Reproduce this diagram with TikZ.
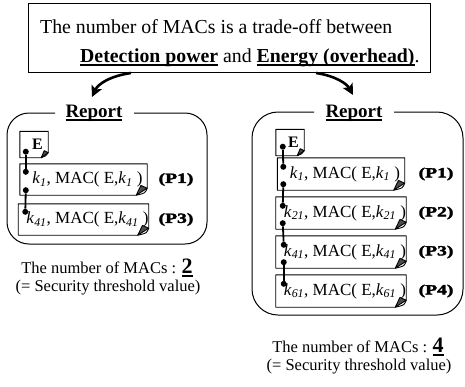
\documentclass[tikz,border=0pt]{standalone}
\usepackage{fontspec}
\setmainfont{Liberation Serif}
\newfontfamily\heavyfont{Liberation Serif}[FakeBold=2.6,FakeStretch=1.4]
\usetikzlibrary{arrows.meta}

% thick underline a little below the baseline
\newsavebox\ulbox
\newcommand\uln[1]{\sbox\ulbox{#1}\rlap{\vrule width\wd\ulbox height -2.4pt depth 3.8pt}\usebox\ulbox}

% key with italic subscript, e.g. k_1
\newcommand\keyk[1]{\textit{k}\textsubscript{\textit{#1}}}

% packet outline with a folded bottom-right corner
\newcommand\foldbox[3]{%
  \draw[pkline] (#1.south west) -- (#1.north west) -- (#1.north east)
    -- ([yshift=#3]#1.south east)
    .. controls ([xshift=-2pt,yshift=2pt]#1.south east) .. ([xshift=-#2]#1.south east)
    -- cycle;
  \filldraw[pkline,fill=black!70] ([yshift=#3]#1.south east) -- ([xshift=-#2]#1.south east)
    -- ([xshift=-0.57*#2,yshift=1.4*#3]#1.south east) -- cycle;
}

\tikzset{
  frame/.style={draw, line width=1pt},
  pkline/.style={line width=0.9pt, line join=round},
  pk/.style={inner sep=0pt, minimum width=127pt, minimum height=31pt,
    font=\fontsize{17}{20}\selectfont},
  ebox/.style={inner sep=0pt, minimum width=28pt, minimum height=26pt,
    font=\fontsize{16}{18}\selectfont\bfseries},
  dotnode/.style={circle, fill=black, inner sep=0pt, minimum size=6pt},
  link/.style={line width=1.8pt},
  plabel/.style={font=\fontsize{14}{17}\selectfont\heavyfont\bfseries},
  ttl/.style={anchor=base, font=\fontsize{19}{23}\selectfont\bfseries},
  note/.style={anchor=base, font=\fontsize{16.5}{20}\selectfont},
  bigarrow/.style={line width=2.6pt, -{Stealth[length=11pt,width=11pt,inset=2.5pt]}},
}

\begin{document}
\begin{tikzpicture}[x=1pt,y=-1pt]
\useasboundingbox (0,0) rectangle (465,386);

% ---- statement box ----
\node[frame, minimum width=402pt, minimum height=69pt, inner sep=0pt] (top) at (229,37.5) {};
\node[anchor=base west, inner sep=0pt, font=\fontsize{19.8}{24}\selectfont] (tl1) at (40,33)
  {The number of MACs is a trade-off between};
\node[anchor=base west, inner sep=0pt, font=\fontsize{19.8}{24}\selectfont] (tl2) at (80,62)
  {{\bfseries\uln{Detection power}} and {\bfseries\uln{Energy (overhead)}}.};

% ---- arrows to the two reports ----
\coordinate (la0) at (131,73);
\coordinate (la1) at (92,97);
\coordinate (ra0) at (316,73);
\coordinate (ra1) at (353,95);
\draw[bigarrow] (la0) .. controls (110,76) and (98,84) .. (la1);
\draw[bigarrow] (ra0) .. controls (336,76) and (347,84) .. (ra1);

% ---- left report: 2 MACs ----
\draw[frame, rounded corners=22pt] (134,113) -- (207,113) -- (207,244) -- (7,244) -- (7,113) -- (55,113);
\node[ttl] (lttl) at (94,117) {\uln{Report}};

\node[ebox] (le) at (34,144.5) {\hspace{7pt}E};
\node[pk] (lp1) at (83.5,179.5) {\hspace{8pt}\keyk{1}, MAC( E,\keyk{1} )};
\node[pk] (lp3) at (83.5,219.5) {\hspace{8pt}\keyk{41}, MAC( E,\keyk{41} )};
\foldbox{le}{7pt}{5pt}
\foldbox{lp1}{11pt}{7pt}
\foldbox{lp3}{11pt}{7pt}
\node[plabel] (lp1l) at (176,179.5) {(P1)};
\node[plabel] (lp3l) at (176,219.5) {(P3)};

\node[dotnode] (led) at ([xshift=6pt,yshift=6pt]le.south west) {};
\node[dotnode] (lp1a) at ([xshift=6pt,yshift=-8pt]lp1.north west) {};
\node[dotnode] (lp1b) at ([xshift=6pt,yshift=5pt]lp1.south west) {};
\node[dotnode] (lp3a) at ([xshift=7pt,yshift=-8pt]lp3.north west) {};
\draw[link] (led) -- (lp1a);
\draw[link] (lp1b) -- (lp3a);

\node[note] (ln1) at (107,273) {The number of MACs : {\fontsize{22}{24}\selectfont\bfseries\uln{2}}};
\node[note] (ln2) at (108,291) {(= Security threshold value)};

% ---- right report: 4 MACs ----
\draw[frame, rounded corners=26pt] (394,112) -- (463,112) -- (463,315) -- (252,315) -- (252,112) -- (314,112);
\node[ttl] (rttl) at (354,117) {\uln{Report}};

\node[ebox] (re) at (290,142.5) {\hspace{7pt}E};
\node[pk, minimum height=32pt] (rp1) at (341,174) {\hspace{8pt}\keyk{1}, MAC( E,\keyk{1} )};
\node[pk, minimum height=32pt] (rp2) at (341,213) {\hspace{8pt}\keyk{21}, MAC( E,\keyk{21} )};
\node[pk, minimum height=32pt] (rp3) at (341,252) {\hspace{8pt}\keyk{41}, MAC( E,\keyk{41} )};
\node[pk, minimum height=32pt] (rp4) at (341,291) {\hspace{8pt}\keyk{61}, MAC( E,\keyk{61} )};
\foldbox{re}{7pt}{5pt}
\foldbox{rp1}{11pt}{7pt}
\foldbox{rp2}{11pt}{7pt}
\foldbox{rp3}{11pt}{7pt}
\foldbox{rp4}{11pt}{7pt}
\node[plabel] (rp1l) at (436,174) {(P1)};
\node[plabel] (rp2l) at (436,213) {(P2)};
\node[plabel] (rp3l) at (436,252) {(P3)};
\node[plabel] (rp4l) at (436,291) {(P4)};

\node[dotnode] (red) at ([xshift=7pt,yshift=9pt]re.south west) {};
\node[dotnode] (rp1a) at ([xshift=6pt,yshift=-9pt]rp1.north west) {};
\node[dotnode] (rp1b) at ([xshift=6pt,yshift=6pt]rp1.south west) {};
\node[dotnode] (rp2a) at ([xshift=7pt,yshift=-9pt]rp2.north west) {};
\node[dotnode] (rp2b) at ([xshift=7pt,yshift=6pt]rp2.south west) {};
\node[dotnode] (rp3a) at ([xshift=8pt,yshift=-9pt]rp3.north west) {};
\node[dotnode] (rp3b) at ([xshift=8pt,yshift=6pt]rp3.south west) {};
\node[dotnode] (rp4a) at ([xshift=8pt,yshift=-9pt]rp4.north west) {};
\draw[link] (red) -- (rp1a);
\draw[link] (rp1b) -- (rp2a);
\draw[link] (rp2b) -- (rp3a);
\draw[link] (rp3b) -- (rp4a);

\node[note] (rn1) at (358,352) {The number of MACs : {\fontsize{22}{24}\selectfont\bfseries\uln{4}}};
\node[note] (rn2) at (359,370) {(= Security threshold value)};
\end{tikzpicture}
\end{document}
